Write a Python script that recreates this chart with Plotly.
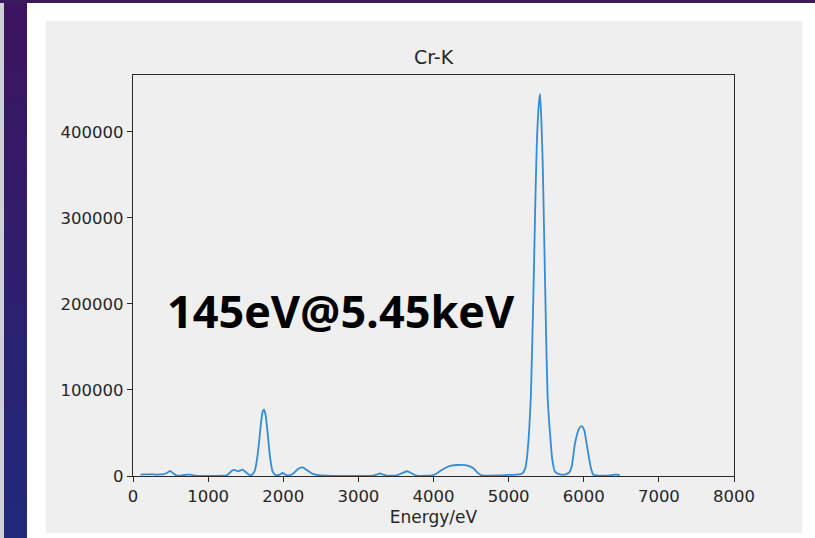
import plotly.graph_objects as go

# ---- data ----
energy_ev = [100, 150, 200, 250, 300, 350, 400, 450, 493, 537, 580, 650, 720, 770, 820, 900,
             1000, 1100, 1200, 1250, 1291, 1336, 1370, 1402, 1430, 1460, 1513, 1566, 1595,
             1624, 1655, 1681, 1708, 1727, 1744, 1758, 1770, 1793, 1824, 1859, 1903, 1950,
             1992, 2030, 2067, 2134, 2200, 2259, 2312, 2379, 2467, 2580, 2700, 2900, 3100,
             3195, 3240, 3288, 3330, 3378, 3450, 3510, 3600, 3651, 3709, 3775, 3900, 3976,
             4043, 4109, 4198, 4250, 4309, 4380, 4442, 4531, 4597, 4641, 4750, 4900, 5000,
             5100, 5177, 5218, 5240, 5271, 5297, 5330, 5353, 5375, 5402, 5418, 5435, 5453,
             5475, 5497, 5519, 5551, 5582, 5618, 5684, 5760, 5810, 5839, 5884, 5937, 5972,
             6007, 6052, 6096, 6127, 6200, 6300, 6416, 6450, 6480]
counts = [1500, 2000, 1800, 2200, 1500, 1800, 2000, 3500, 6000, 3000, 600, 800, 1500, 1500, 300, 200,
          200, 200, 300, 800, 4000, 7000, 6500, 5500, 6500, 7500, 3500, 600, 2500,
          7000, 22000, 42000, 65000, 75000, 77500, 74000, 68000, 49000, 22000, 5000, 700, 1500,
          3500, 1500, 600, 3000, 8500, 10000, 7000, 3000, 1000, 400, 200, 100, 200,
          400, 1500, 3000, 1500, 400, 300, 600, 4000, 5500, 3000, 500, 300, 600,
          3000, 7000, 11000, 12300, 12800, 12900, 12300, 9000, 3000, 600, 500, 800, 1200,
          1500, 2500, 8000, 18500, 49500, 95000, 212000, 308000, 386000, 432000, 444000, 415000, 366000,
          270000, 173000, 92000, 49500, 18500, 5000, 2000, 2000, 4500, 10800, 38000, 55000, 58000,
          53000, 30000, 9000, 1500, 500, 400, 1500, 1500, 500]

x_ticks = [0, 1000, 2000, 3000, 4000, 5000, 6000, 7000, 8000]
y_ticks = [0, 100000, 200000, 300000, 400000]
title_text = "Cr-K"
x_title = "Energy/eV"
note_text = "145eV@5.45keV"

# ---- geometry ----
W, H = 815, 538
L, R, T, B = 133, 734, 75, 476


def fx(px):
    return (px - L) / (R - L)


def fy(py):
    return (B - py) / (B - T)


fig = go.Figure()
fig.add_trace(go.Scatter(
    x=energy_ev, y=counts, mode="lines",
    line=dict(color="#348cd6", width=1.8, shape="spline", smoothing=0.5),
    hoverinfo="skip", showlegend=False,
))

shapes = []
# slide frame grey panel
shapes.append(dict(type="rect", xref="paper", yref="paper", x0=fx(46), x1=fx(802), y0=fy(533), y1=fy(21),
                   fillcolor="#efefef", line=dict(width=0), layer="below"))
# left light edge
shapes.append(dict(type="rect", xref="paper", yref="paper", x0=fx(0), x1=fx(5), y0=fy(H), y1=fy(0),
                   fillcolor="#cfcfd6", line=dict(width=0), layer="below"))
# left dark band gradient (overlapping strips to avoid seams)
top_c = (0x3c, 0x15, 0x60)
bot_c = (0x22, 0x29, 0x7b)
n = 16
for i in range(n):
    t = i / (n - 1)
    c = tuple(int(top_c[k] + (bot_c[k] - top_c[k]) * t) for k in range(3))
    y0p = H * i / n
    y1p = H * (i + 1) / n + 3
    shapes.append(dict(type="rect", xref="paper", yref="paper", x0=fx(4), x1=fx(27),
                       y0=fy(y1p), y1=fy(y0p), fillcolor="rgb(%d,%d,%d)" % c,
                       line=dict(width=0), layer="below"))
# top strip
shapes.append(dict(type="rect", xref="paper", yref="paper", x0=fx(0), x1=fx(W), y0=fy(3), y1=fy(0),
                   fillcolor="#3b1a5e", line=dict(width=0), layer="below"))

annotations = [
    dict(text=title_text, xref="paper", yref="paper", x=0.5, y=fy(57), showarrow=False,
         font=dict(family="DejaVu Sans", size=19, color="#262626"), xanchor="center", yanchor="middle"),
    dict(text="<b>%s</b>" % note_text, xref="paper", yref="paper", x=fx(341), y=fy(310), showarrow=False,
         font=dict(family="Open Sans", size=45, color="#000000"), xanchor="center", yanchor="middle"),
]

axis_common = dict(showline=True, mirror=True, linecolor="#2a2a2a", linewidth=1.2,
                   ticks="outside", ticklen=5, tickwidth=1.2, tickcolor="#2a2a2a",
                   showgrid=False, zeroline=False,
                   tickfont=dict(family="DejaVu Sans", size=16.5, color="#262626"))

fig.update_layout(
    width=W, height=H,
    margin=dict(l=L, r=W - R, t=T, b=H - B, pad=0),
    paper_bgcolor="#ffffff", plot_bgcolor="#efefef",
    shapes=shapes, annotations=annotations,
    xaxis=dict(range=[0, 8000], tickvals=x_ticks, ticktext=[str(v) for v in x_ticks],
               title=dict(text=x_title, font=dict(family="DejaVu Sans", size=17, color="#262626"), standoff=6),
               **axis_common),
    yaxis=dict(range=[0, 466000], tickvals=y_ticks, ticktext=[str(v) for v in y_ticks], **axis_common),
)

fig.write_html("out.html")
